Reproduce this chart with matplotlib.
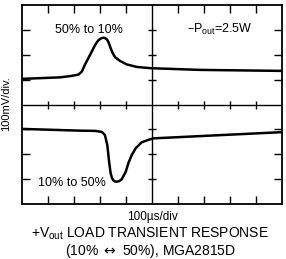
import matplotlib.pyplot as plt

plt.rcParams['font.family'] = ['Liberation Sans', 'DejaVu Sans']

# upper trace: 50% -> 10% load step (x in divisions, y in divisions)
top_x = [0, 1.46, 1.85, 2.17, 2.30, 2.42, 2.55, 2.68, 2.81, 2.93, 3.00, 3.07, 3.13, 3.19, 3.26, 3.32, 3.41, 3.49,
         3.58, 3.77, 4.03, 4.41, 4.92, 6.85, 10]
top_y = [5.03, 5.09, 5.14, 5.20, 5.32, 5.60, 5.86, 6.12, 6.39, 6.57, 6.63, 6.67, 6.68, 6.67, 6.62, 6.52, 6.26, 6.06,
         5.90, 5.75, 5.61, 5.51, 5.46, 5.39, 5.35]

# lower trace: 10% -> 50% load step
bot_x = [0, 2.23, 2.81, 3.07, 3.19, 3.28, 3.35, 3.41, 3.46, 3.51, 3.57, 3.64, 3.73, 3.83, 3.99, 4.09, 4.22, 4.37,
         4.60, 4.86, 5.05, 10]
bot_y = [3.02, 2.95, 2.94, 2.90, 2.77, 2.37, 1.70, 1.23, 1.05, 0.96, 0.91, 0.90, 0.92, 0.99, 1.30, 1.64, 1.97, 2.24,
         2.48, 2.58, 2.64, 2.89]

xdivs = [1, 2, 3, 4, 6, 7, 8, 9]
ydivs = [1, 2, 3, 5, 6, 7]

fig = plt.figure(figsize=(2.86, 2.59), dpi=100)
ax = fig.add_axes([0.077, 0.212, 0.909, 0.769])
ax.set_xlim(0, 10)
ax.set_ylim(0, 8)

for s in ax.spines.values():
    s.set_linewidth(1.3)

ax.set_xticks(xdivs)
ax.set_yticks(ydivs)
ax.set_xticklabels([])
ax.set_yticklabels([])
ax.tick_params(direction='in', length=5.5, width=1.0, top=True, right=True)

# center graticule with cross ticks
ax.axvline(5, color='black', lw=1.0)
ax.axhline(4, color='black', lw=1.0)
ax.plot(xdivs, [4] * len(xdivs), ls='none', marker='|', ms=6, mew=1.0, color='black')
ax.plot([5] * len(ydivs), ydivs, ls='none', marker='_', ms=6, mew=1.0, color='black')

ax.plot(top_x, top_y, color='black', lw=1.8, solid_joinstyle='round', solid_capstyle='round')
ax.plot(bot_x, bot_y, color='black', lw=1.8, solid_joinstyle='round', solid_capstyle='round')

ax.text(2.58, 7.0, '50% to 10%', ha='center', va='center', fontsize=9)
ax.text(7.6, 7.0, '\u2013P$_\\mathregular{out}$=2.5W', ha='center', va='center', fontsize=9)
ax.text(1.93, 0.85, '10% to 50%', ha='center', va='center', fontsize=9)

fig.text(0.022, 0.6, '100mV/div.', rotation=90, ha='center', va='center', fontsize=8)
fig.text(0.532, 0.162, '100\u00b5s/div', ha='center', va='center', fontsize=8.5)
fig.text(0.525, 0.096, '+V$_\\mathregular{out}$ LOAD TRANSIENT RESPONSE', ha='center', va='center', fontsize=10)
fig.text(0.525, 0.030, '(10% $\\leftrightarrow$ 50%), MGA2815D', ha='center', va='center', fontsize=10)

fig.savefig('out.png', dpi=100)
